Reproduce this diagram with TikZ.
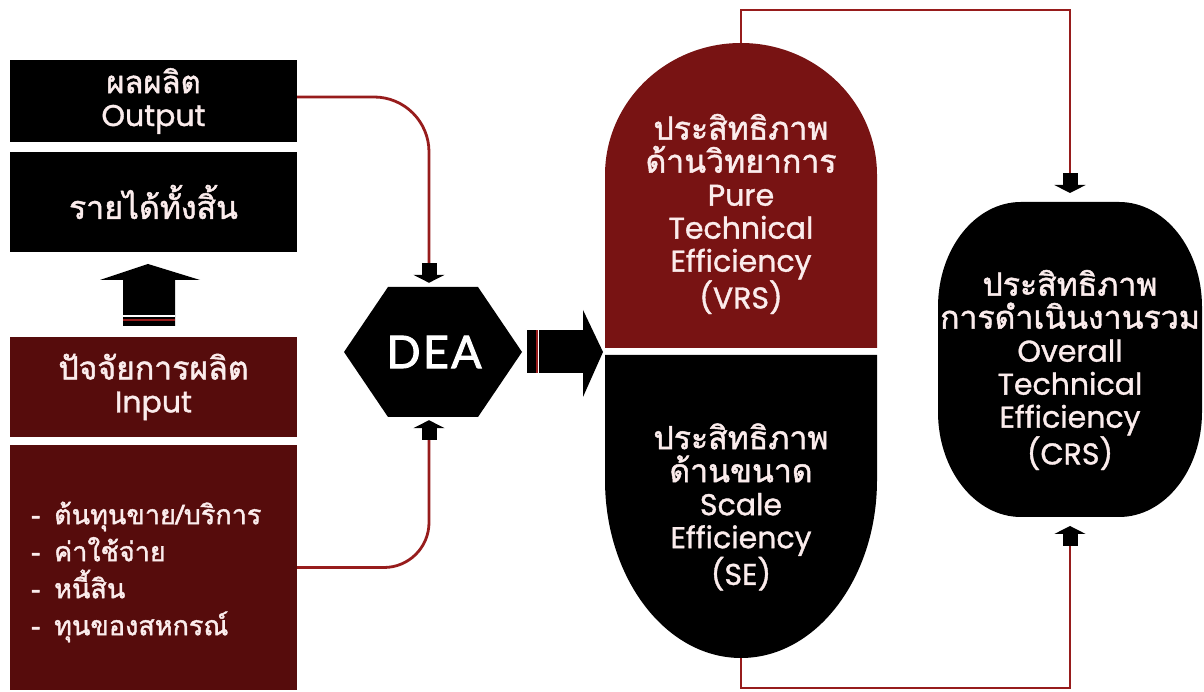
\documentclass[tikz,border=0pt]{standalone}
\usepackage{fontspec}
\setmainfont{Poppins}[FakeBold=1.2]
\newfontfamily\thai[Script=Thai,FakeBold=1.5]{Loma}
\newfontfamily\deafont[LetterSpace=5,FakeBold=2]{Lato}
\usetikzlibrary{arrows.meta}
\definecolor{maroonA}{HTML}{560C0C}
\definecolor{maroonB}{HTML}{781313}
\definecolor{linered}{HTML}{971C1C}
\definecolor{txtc}{HTML}{FBECEC}
\newcommand{\thl}{\thai\fontsize{32}{33}\selectfont}
\begin{document}
\begin{tikzpicture}[x=1pt,y=1pt,
  box/.style={minimum width=287pt, inner sep=0pt, align=center, text=txtc,
    font=\fontsize{30}{33}\selectfont},
  lbl/.style={text=txtc, align=center, inner sep=0pt, font=\fontsize{30}{33}\selectfont},
  conn/.style={draw=linered, line width=2.8pt},
  blk/.style={-{Rectangle[length=12pt,width=15pt,black,sep=0pt]Triangle[length=8pt,width=31pt,black,sep=0pt]}}
]
\useasboundingbox (0,0) rectangle (1204,692);

% left column
\node[box, fill=black, minimum height=82pt] (out) at (153.5,591) {{\thai\fontsize{31}{33}\selectfont ผลผลิต}\\Output};
\node[box, fill=black, minimum height=100pt] (rev) at (153.5,490) {\thai\fontsize{32}{33}\selectfont รายได้ทั้งสิ้น};
\node[box, fill=maroonA, minimum height=100pt] (inp) at (153.5,305) {{\thai\fontsize{32}{33}\selectfont ปัจจัยการผลิต}\\Input};
\node[box, fill=maroonA, minimum height=245pt] (list) at (153.5,124.5) {};
\node[text=txtc, align=left, anchor=west, inner sep=0pt,
  font=\thai\fontsize{27}{37}\selectfont] (items) at (31,120)
  {-\hspace{14pt}ต้นทุนขาย/บริการ\\-\hspace{14pt}ค่าใช้จ่าย\\-\hspace{14pt}หนี้สิน\\-\hspace{14pt}ทุนของสหกรณ์};

% up block arrow
\fill (123,366) -- (123,412) -- (100,412) -- (148,428) -- (200,412) -- (175,412) -- (175,366) -- cycle;
\fill[white] (123,375) rectangle (175,377);
\fill[linered] (123,370.5) rectangle (175,373);

% DEA hexagon
\fill (388,405) -- (478,405) -- (522,340) -- (478,275) -- (388,275) -- (344,340) -- cycle;
\node[text=white, minimum width=178pt, minimum height=130pt, inner sep=0pt,
  font=\deafont\fontsize{45}{45}\selectfont] (dea) at (434,340) {DEA};

% right block arrow
\fill (527,319) rectangle (583,362);
\fill (583,295) -- (603,340) -- (583,382) -- cycle;
\fill[linered] (535.5,319) rectangle (537.5,362);
\fill[white] (537.5,319) rectangle (539,362);

% capsule
\fill[maroonB] (605,344) -- (605,517) arc[start angle=180,end angle=0,x radius=136,y radius=132] -- (877,344) -- cycle;
\fill (605,337) -- (605,212) arc[start angle=180,end angle=360,x radius=136,y radius=178] -- (877,337) -- cycle;
\coordinate (captop) at (741,649);
\coordinate (capbot) at (741,34);
\node[lbl] (pte) at (741,478) {{\thl ประสิทธิภาพ}\\{\thl ด้านวิทยาการ}\\Pure\\Technical\\Efficiency\\(VRS)};
\node[lbl] (se) at (741,185) {{\thl ประสิทธิภาพ}\\{\thl ด้านขนาด}\\Scale\\Efficiency\\(SE)};

% CRS
\fill (938,385) arc[start angle=180,end angle=90,x radius=83,y radius=105] -- (1119,490)
  arc[start angle=90,end angle=0,x radius=83,y radius=105] -- (1202,280)
  arc[start angle=0,end angle=-90,x radius=83,y radius=105] -- (1021,175)
  arc[start angle=-90,end angle=-180,x radius=83,y radius=105] -- cycle;
\node[lbl] (crs) at (1070,322) {{\thl ประสิทธิภาพ}\\{\thl การดำเนินงานรวม}\\Overall\\Technical\\Efficiency\\(CRS)};
\coordinate (crsN) at (1070,490);
\coordinate (crsS) at (1070,175);
\coordinate (topy) at (0,682);
\coordinate (boty) at (0,4);

% connectors
\draw[conn, blk, rounded corners=55pt, shorten >=4pt] ([yshift=4pt]out.east) -| ([xshift=-5pt]dea.north);
\draw[conn, blk, rounded corners=45pt, shorten >=3pt] (list.east) -| ([xshift=-5pt]dea.south);
\draw[conn, blk, shorten >=9pt] (captop) -- (captop |- topy) -| (crsN);
\draw[conn, blk, shorten >=9pt] (capbot) -- (capbot |- boty) -| (crsS);
\end{tikzpicture}
\end{document}
